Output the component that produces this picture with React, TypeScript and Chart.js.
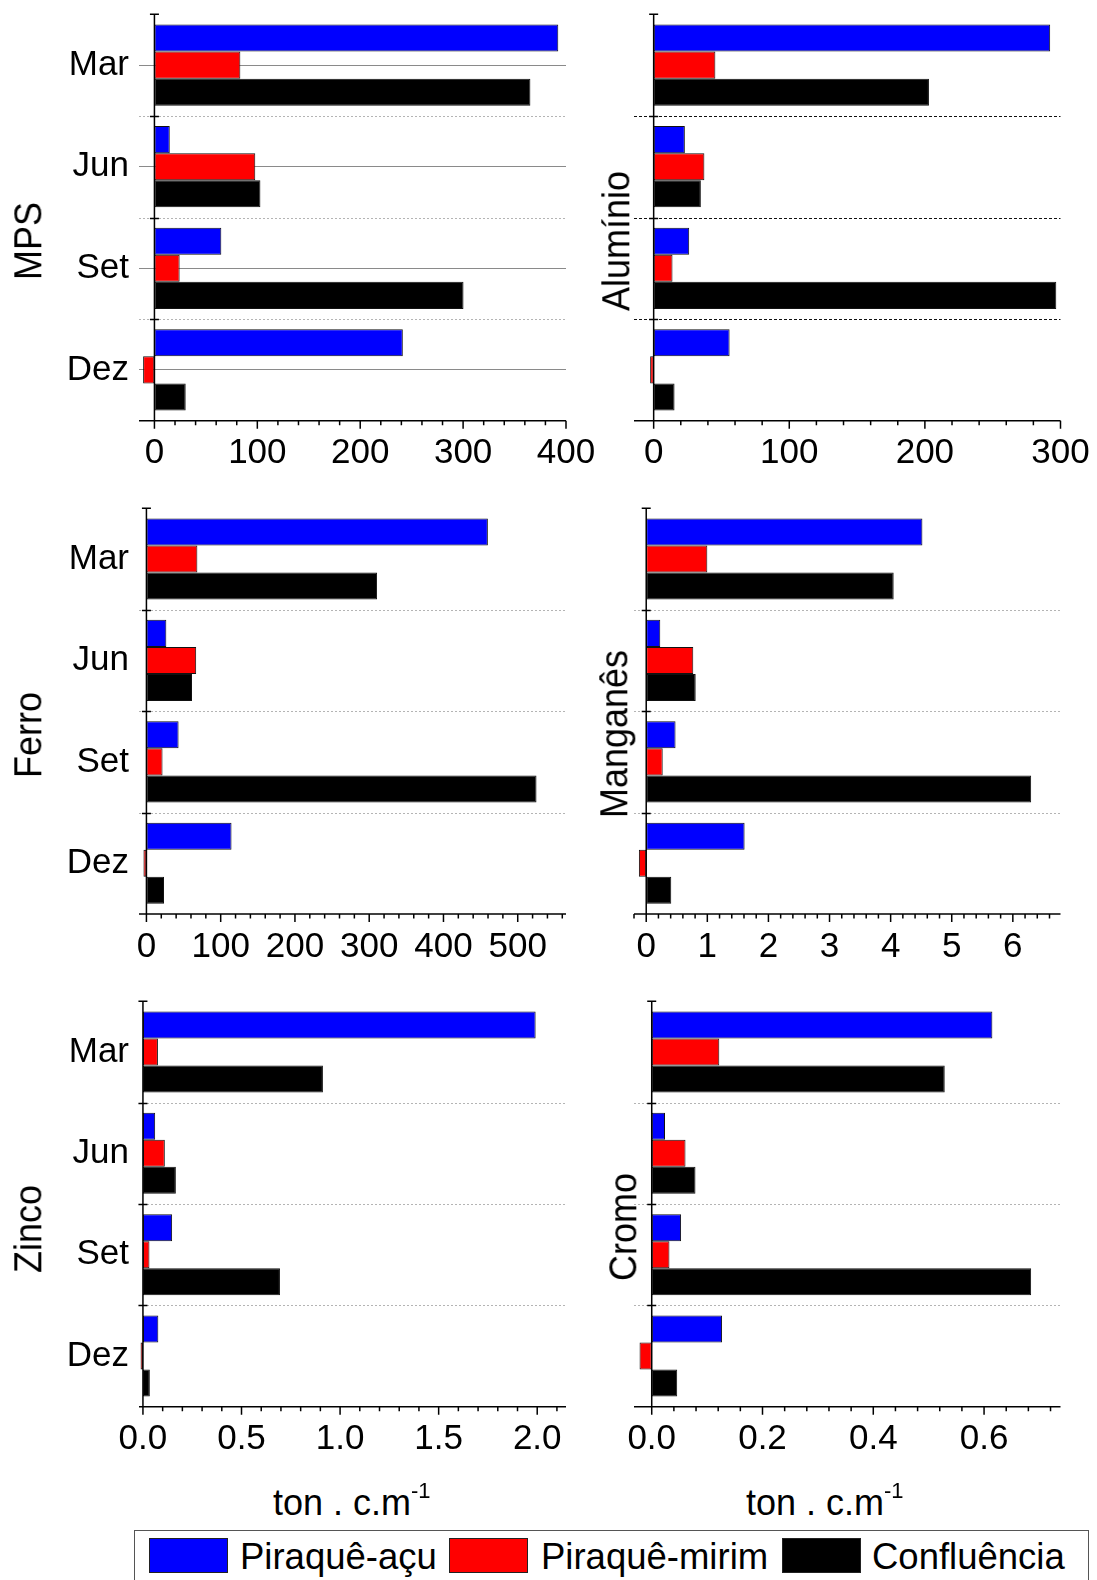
import React, { useEffect, useRef } from 'react';
import { Chart, registerables } from 'chart.js';

Chart.register(...registerables);

// ---- data -------------------------------------------------------------
const months = ['Mar', 'Jun', 'Set', 'Dez'];
const seriesNames = ['Piraquê-açu', 'Piraquê-mirim', 'Confluência'];
const seriesColors = ['#0000ff', '#ff0000', '#000000'];

const mpsAcu = [392.5, 14.9, 65, 241.4];
const mpsMirim = [83.5, 98, 24.5, -11];
const mpsConfl = [365.4, 103, 300.4, 30.4];
const mpsTicks = [0, 100, 200, 300, 400];

const aluminioAcu = [292.4, 23, 26.2, 56];
const aluminioMirim = [45.5, 37.4, 13.9, -2.6];
const aluminioConfl = [203, 34.8, 296.9, 15.4];
const aluminioTicks = [0, 100, 200, 300];

const ferroAcu = [459.8, 26.8, 43.3, 114.6];
const ferroMirim = [68.6, 67, 21.7, -4];
const ferroConfl = [310.6, 61.4, 525.3, 23.7];
const ferroTicks = [0, 100, 200, 300, 400, 500];

const manganesAcu = [4.52, 0.23, 0.48, 1.61];
const manganesMirim = [1.0, 0.77, 0.27, -0.12];
const manganesConfl = [4.05, 0.81, 6.3, 0.41];
const manganesTicks = [0, 1, 2, 3, 4, 5, 6];

const zincoAcu = [1.992, 0.062, 0.148, 0.078];
const zincoMirim = [0.076, 0.111, 0.033, -0.012];
const zincoConfl = [0.913, 0.167, 0.695, 0.035];
const zincoTicks = [0, 0.5, 1.0, 1.5, 2.0];

const cromoAcu = [0.615, 0.024, 0.053, 0.127];
const cromoMirim = [0.122, 0.061, 0.032, -0.022];
const cromoConfl = [0.529, 0.079, 0.685, 0.046];
const cromoTicks = [0, 0.2, 0.4, 0.6];

const unitLabel = 'ton . c.m';
const unitExp = '-1';

// ---- layout / styling ---------------------------------------------------
const FONT = '"Liberation Sans", Arial, Helvetica, sans-serif';

type PanelDef = {
  title: string;
  series: number[][];
  ticks: number[];
  decimals: number;
  min: number;
  max: number;
  minor: number;
  col: 0 | 1;
  row: 0 | 1 | 2;
  centerLines: boolean;
  sepColor: string;
  sepDash: number[];
  titleX: number;
  titleY: number;
};

const panels: PanelDef[] = [
  { title: 'MPS', series: [mpsAcu, mpsMirim, mpsConfl], ticks: mpsTicks, decimals: 0, min: -15, max: 400, minor: 20, col: 0, row: 0, centerLines: true, sepColor: '#b4b4b4', sepDash: [2, 2], titleX: 28, titleY: 241 },
  { title: 'Alumínio', series: [aluminioAcu, aluminioMirim, aluminioConfl], ticks: aluminioTicks, decimals: 0, min: -14.5, max: 300, minor: 20, col: 1, row: 0, centerLines: false, sepColor: '#111111', sepDash: [3, 2], titleX: 616, titleY: 241 },
  { title: 'Ferro', series: [ferroAcu, ferroMirim, ferroConfl], ticks: ferroTicks, decimals: 0, min: -10, max: 565, minor: 20, col: 0, row: 1, centerLines: false, sepColor: '#b4b4b4', sepDash: [2, 2], titleX: 28, titleY: 735 },
  { title: 'Manganês', series: [manganesAcu, manganesMirim, manganesConfl], ticks: manganesTicks, decimals: 0, min: -0.2, max: 6.78, minor: 0.2, col: 1, row: 1, centerLines: false, sepColor: '#b4b4b4', sepDash: [2, 2], titleX: 614, titleY: 734 },
  { title: 'Zinco', series: [zincoAcu, zincoMirim, zincoConfl], ticks: zincoTicks, decimals: 1, min: -0.02, max: 2.146, minor: 0.1, col: 0, row: 2, centerLines: false, sepColor: '#b4b4b4', sepDash: [2, 2], titleX: 28, titleY: 1229 },
  { title: 'Cromo', series: [cromoAcu, cromoMirim, cromoConfl], ticks: cromoTicks, decimals: 1, min: -0.032, max: 0.738, minor: 0.04, col: 1, row: 2, centerLines: false, sepColor: '#b4b4b4', sepDash: [2, 2], titleX: 623, titleY: 1227 },
];

// plot-area edges
const colLeft = [139, 634];
const colRight = [566, 1060.5];
const colCanvasLeft = [0, 600];
const colCanvasWidth = [600, 497];
const rowTop = [14.3, 508.3, 1001.3];
const rowBottom = [420.7, 914, 1406.7];

// Draws the axis lines at zero / bottom, their tick marks and the
// separators between month groups.
const framePlugin = {
  id: 'frame',
  beforeDatasetsDraw(chart: any, _args: any, opts: any) {
    const { ctx, chartArea: a, scales } = chart;
    const y = scales.y;
    const n = months.length;
    ctx.save();
    ctx.strokeStyle = opts.sepColor;
    ctx.lineWidth = 1;
    ctx.setLineDash(opts.sepDash || []);
    for (let i = 1; i < n; i++) {
      const py = Math.round((y.getPixelForValue(i - 1) + y.getPixelForValue(i)) / 2) + 0.5;
      ctx.beginPath();
      ctx.moveTo(a.left, py);
      ctx.lineTo(a.right, py);
      ctx.stroke();
    }
    ctx.restore();
  },
  afterDatasetsDraw(chart: any, _args: any, opts: any) {
    const { ctx, chartArea: a, scales } = chart;
    const x = scales.x;
    const y = scales.y;
    const n = months.length;
    const x0 = x.getPixelForValue(0);
    ctx.save();
    ctx.strokeStyle = '#000';
    ctx.lineWidth = 1.5;
    ctx.setLineDash([]);
    // vertical axis at zero
    ctx.beginPath();
    ctx.moveTo(x0, a.top);
    ctx.lineTo(x0, a.bottom);
    ctx.stroke();
    // small marks at the top and at each group boundary
    const marks = [a.top];
    for (let i = 1; i < n; i++) {
      marks.push(Math.round((y.getPixelForValue(i - 1) + y.getPixelForValue(i)) / 2) + 0.5);
    }
    ctx.beginPath();
    for (const m of marks) {
      ctx.moveTo(x0 - 4.5, m);
      ctx.lineTo(x0 + 4.5, m);
    }
    ctx.stroke();
    // horizontal axis
    ctx.beginPath();
    ctx.moveTo(a.left, a.bottom);
    ctx.lineTo(a.right, a.bottom);
    ctx.stroke();
    // major and minor tick marks
    const step = opts.minor;
    const major = opts.major;
    const k0 = Math.ceil(x.min / step - 1e-9);
    const k1 = Math.floor(x.max / step + 1e-9);
    ctx.beginPath();
    for (let k = k0; k <= k1; k++) {
      const v = k * step;
      const r = v / major;
      const isMajor = Math.abs(r - Math.round(r)) < 1e-6;
      const px = x.getPixelForValue(v);
      ctx.moveTo(px, a.bottom);
      ctx.lineTo(px, a.bottom + (isMajor ? 8 : 4.5));
    }
    ctx.stroke();
    ctx.restore();
  },
};

function Panel({ def }: { def: PanelDef }) {
  const ref = useRef<HTMLCanvasElement | null>(null);
  const left = colCanvasLeft[def.col];
  const width = colCanvasWidth[def.col];
  const top = Math.floor(rowTop[def.row]) - 14;
  const height = Math.ceil(rowBottom[def.row]) + 72 - top;
  const padTop = rowTop[def.row] - top;
  const xHeight = top + height - rowBottom[def.row];
  const yWidth = colLeft[def.col] - left;
  const padRight = left + width - colRight[def.col];

  useEffect(() => {
    const canvas = ref.current;
    if (!canvas) return;
    const isLeft = def.col === 0;
    const chart = new Chart(canvas, {
      type: 'bar',
      data: {
        labels: months,
        datasets: def.series.map((vals, i) => ({
          label: seriesNames[i],
          data: vals,
          backgroundColor: seriesColors[i],
          borderColor: '#111111',
          borderWidth: 1,
          borderSkipped: false,
          categoryPercentage: 0.8,
          barPercentage: 1.0,
        })),
      },
      options: {
        indexAxis: 'y',
        responsive: false,
        animation: false,
        devicePixelRatio: 1,
        layout: {
          autoPadding: false,
          padding: { top: padTop, right: padRight, bottom: 0, left: 0 },
        },
        plugins: {
          legend: { display: false },
          tooltip: { enabled: false },
          frame: { sepColor: def.sepColor, sepDash: def.sepDash, minor: def.minor, major: def.ticks[1] - def.ticks[0] },
        } as any,
        scales: {
          x: {
            type: 'linear',
            min: def.min,
            max: def.max,
            grid: { display: false },
            border: { display: false },
            ticks: {
              color: '#000',
              font: { family: FONT, size: 35 },
              padding: 4,
              maxRotation: 0,
              autoSkip: false,
              callback: (v: any) => Number(v).toFixed(def.decimals),
            },
            afterBuildTicks: (s: any) => {
              s.ticks = def.ticks.map((v) => ({ value: v }));
            },
            afterFit: (s: any) => {
              s.height = xHeight;
              s.paddingLeft = 0;
              s.paddingRight = 0;
            },
          },
          y: {
            display: true,
            grid: {
              display: def.centerLines,
              offset: false,
              drawTicks: false,
              color: '#8a8a8a',
              lineWidth: 1,
            },
            border: { display: false },
            ticks: {
              display: isLeft,
              color: '#000',
              font: { family: FONT, size: 35 },
              padding: 10,
            },
            afterFit: (s: any) => {
              s.width = yWidth;
              s.paddingTop = 0;
              s.paddingBottom = 0;
            },
          },
        },
      } as any,
      plugins: [framePlugin],
    });
    return () => chart.destroy();
  }, [def]);

  return (
    <canvas
      ref={ref}
      width={width}
      height={height}
      style={{ position: 'absolute', left, top, width, height }}
    />
  );
}

function AxisTitle({ text, x, y }: { text: string; x: number; y: number }) {
  return (
    <div
      style={{
        position: 'absolute',
        left: x,
        top: y,
        transform: 'translate(-50%, -50%) rotate(-90deg) scaleY(1.08)',
        fontFamily: FONT,
        fontSize: 36,
        lineHeight: '36px',
        whiteSpace: 'nowrap',
        color: '#000',
      }}
    >
      {text}
    </div>
  );
}

function UnitTitle({ x, y }: { x: number; y: number }) {
  return (
    <div
      style={{
        position: 'absolute',
        left: x,
        top: y,
        fontFamily: FONT,
        fontSize: 36,
        lineHeight: '36px',
        whiteSpace: 'nowrap',
        color: '#000',
      }}
    >
      {unitLabel}
      <span style={{ fontSize: 22, position: 'relative', top: -17 }}>{unitExp}</span>
    </div>
  );
}

const legendSwatchX = [149, 449, 782];
const legendTextX = [240, 541, 872];

export default function App() {
  return (
    <div
      style={{
        position: 'absolute',
        left: 0,
        top: 0,
        width: 1097,
        height: 1580,
        background: '#fff',
        overflow: 'hidden',
      }}
    >
      {panels.map((p) => (
        <Panel key={p.title} def={p} />
      ))}
      {panels.map((p) => (
        <AxisTitle key={'t' + p.title} text={p.title} x={p.titleX} y={p.titleY} />
      ))}
      <UnitTitle x={273} y={1485} />
      <UnitTitle x={746} y={1485} />
      <div
        style={{
          position: 'absolute',
          left: 134,
          top: 1530,
          width: 955,
          height: 60,
          border: '1px solid #555',
          boxSizing: 'border-box',
        }}
      />
      {seriesNames.map((name, i) => (
        <React.Fragment key={name}>
          <div
            style={{
              position: 'absolute',
              left: legendSwatchX[i],
              top: 1538,
              width: 79,
              height: 35,
              background: seriesColors[i],
              border: '1px solid #222',
              boxSizing: 'border-box',
            }}
          />
          <div
            style={{
              position: 'absolute',
              left: legendTextX[i],
              top: 1539,
              fontFamily: FONT,
              fontSize: 36.5,
              lineHeight: '36.5px',
              whiteSpace: 'nowrap',
              color: '#000',
            }}
          >
            {name}
          </div>
        </React.Fragment>
      ))}
    </div>
  );
}
